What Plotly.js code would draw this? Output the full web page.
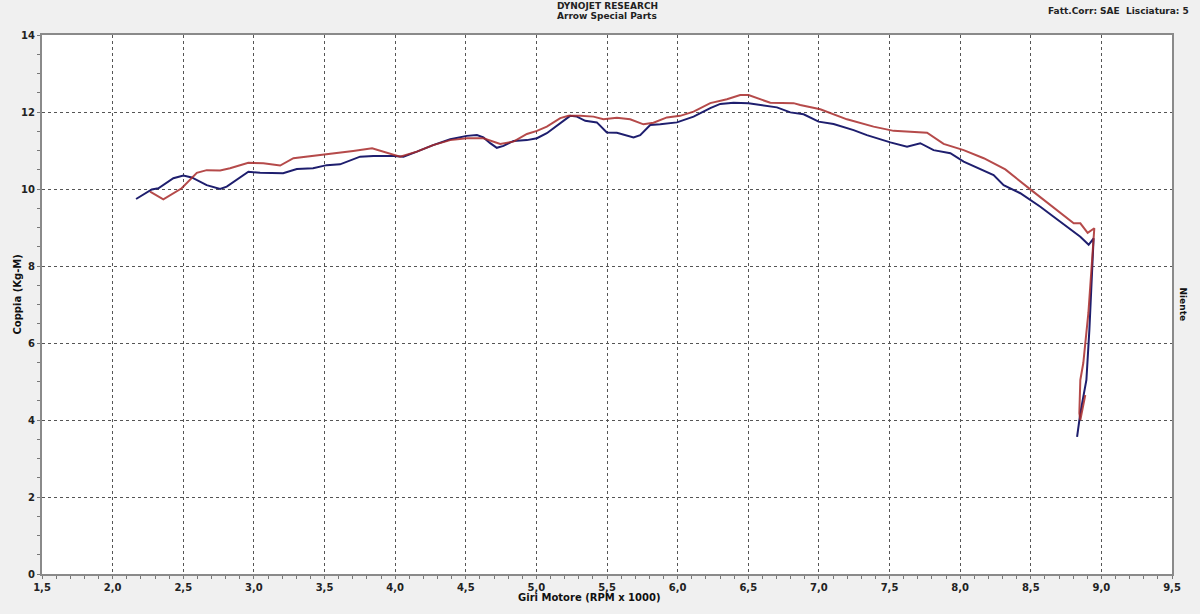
<!DOCTYPE html>
<html>
<head>
<meta charset="utf-8">
<script src="https://cdn.plot.ly/plotly-3.0.1.min.js"></script>
<style>
html,body{margin:0;padding:0;background:#f0f0f0;}
#chart{width:1200px;height:614px;}
</style>
</head>
<body>
<div id="chart"></div>
<script>
// Blue run: RPM x 1000 and torque (Kg-M)
const blueRpm = [2.166,2.277,2.324,2.430,2.501,2.560,2.666,2.761,2.808,2.961,3.044,3.207,3.304,3.419,3.516,3.610,3.752,3.846,3.988,4.059,4.154,4.269,4.390,4.508,4.579,4.625,4.673,4.720,4.767,4.838,4.933,5.004,5.074,5.169,5.239,5.287,5.346,5.428,5.499,5.570,5.688,5.735,5.806,5.877,5.995,6.113,6.231,6.302,6.396,6.502,6.538,6.703,6.798,6.892,6.998,7.104,7.246,7.340,7.506,7.624,7.718,7.812,7.931,8.025,8.237,8.308,8.426,8.568,8.662,8.757,8.851,8.910,8.945,8.915,8.894,8.851,8.828];
const blueTorque = [9.74,9.99,10.02,10.28,10.35,10.30,10.10,10.00,10.06,10.45,10.42,10.41,10.52,10.54,10.62,10.64,10.84,10.86,10.86,10.84,10.97,11.14,11.29,11.38,11.40,11.34,11.19,11.07,11.12,11.25,11.27,11.32,11.45,11.72,11.90,11.88,11.77,11.73,11.47,11.46,11.34,11.40,11.66,11.68,11.73,11.88,12.10,12.21,12.24,12.23,12.21,12.12,11.99,11.94,11.75,11.69,11.53,11.40,11.21,11.10,11.19,11.01,10.93,10.71,10.36,10.10,9.89,9.54,9.28,9.02,8.76,8.55,8.72,6.34,5.04,4.18,3.56];

// Red run
const redRpm = [2.265,2.359,2.489,2.596,2.666,2.761,2.831,2.961,3.067,3.186,3.280,3.469,3.703,3.837,3.929,4.035,4.154,4.269,4.390,4.508,4.625,4.744,4.838,4.933,5.004,5.074,5.169,5.227,5.310,5.404,5.475,5.570,5.664,5.758,5.829,5.924,6.018,6.113,6.231,6.349,6.443,6.502,6.656,6.821,6.868,7.010,7.199,7.387,7.529,7.766,7.883,8.025,8.167,8.320,8.497,8.710,8.804,8.851,8.903,8.950,8.934,8.908,8.872,8.851,8.844,8.851,8.886];
const redTorque = [9.93,9.73,10.02,10.42,10.49,10.48,10.54,10.68,10.67,10.61,10.80,10.88,10.99,11.06,10.96,10.84,10.97,11.14,11.27,11.32,11.32,11.17,11.23,11.43,11.51,11.62,11.84,11.90,11.90,11.88,11.81,11.85,11.81,11.68,11.72,11.86,11.90,12.01,12.23,12.33,12.44,12.44,12.24,12.23,12.18,12.07,11.81,11.62,11.51,11.46,11.17,11.01,10.80,10.51,9.99,9.37,9.11,9.11,8.86,8.98,8.08,6.78,5.48,5.04,4.18,4.00,4.65];

const xTickVals = [1.5,2.0,2.5,3.0,3.5,4.0,4.5,5.0,5.5,6.0,6.5,7.0,7.5,8.0,8.5,9.0,9.5];
const xTickText = ["1,5","2,0","2,5","3,0","3,5","4,0","4,5","5,0","5,5","6,0","6,5","7,0","7,5","8,0","8,5","9,0","9,5"];
const yTickVals = [0,2,4,6,8,10,12,14];
const yTickText = ["0","2","4","6","8","10","12","14"];

const F = "Tahoma, 'DejaVu Sans', Verdana, sans-serif";

const traces = [
  {x: blueRpm, y: blueTorque, type: 'scatter', mode: 'lines',
   line: {color: '#1e1e6e', width: 2}, hoverinfo: 'skip'},
  {x: redRpm, y: redTorque, type: 'scatter', mode: 'lines',
   line: {color: '#a82a2a', width: 2}, opacity: 0.85, hoverinfo: 'skip'}
];

const axisCommon = {
  showline: true, mirror: true, linecolor: '#8a8a8a', linewidth: 2,
  showgrid: true, gridcolor: '#555', griddash: 'dot', gridwidth: 1,
  zeroline: false, ticks: 'outside', ticklen: 3, tickcolor: '#777',
  tickfont: {family: F, size: 10, color: '#222', weight: 'bold'}
};

const layout = {
  width: 1200, height: 614,
  paper_bgcolor: '#f0f0f0', plot_bgcolor: '#ffffff',
  margin: {l: 42, r: 28, t: 35, b: 40},
  showlegend: false,
  xaxis: Object.assign({}, axisCommon, {
    range: [1.5, 9.5], tickvals: xTickVals, ticktext: xTickText,
    minor: {dtick: 0.1, ticks: 'outside', ticklen: 3, tickcolor: '#777', showgrid: false}
  }),
  yaxis: Object.assign({}, axisCommon, {
    range: [0, 14], tickvals: yTickVals, ticktext: yTickText,
    minor: {dtick: 0.5, ticks: 'outside', ticklen: 3, tickcolor: '#777', showgrid: false}
  }),
  annotations: [
    {text: 'DYNOJET RESEARCH', xref: 'paper', yref: 'paper', x: 0.5, y: 1, yshift: 29,
     xanchor: 'center', yanchor: 'middle', showarrow: false,
     font: {family: F, size: 9, color: '#222', weight: 'bold'}},
    {text: 'Arrow Special Parts', xref: 'paper', yref: 'paper', x: 0.5, y: 1, yshift: 19,
     xanchor: 'center', yanchor: 'middle', showarrow: false,
     font: {family: F, size: 9, color: '#222', weight: 'bold'}},
    {text: 'Fatt.Corr: SAE  Lisciatura: 5', xref: 'paper', yref: 'paper', x: 1, xshift: 19, y: 1, yshift: 24,
     xanchor: 'right', yanchor: 'middle', showarrow: false,
     font: {family: F, size: 9, color: '#222', weight: 'bold'}},
    {text: 'Niente', xref: 'paper', yref: 'paper', x: 1, xshift: 11, y: 0.5, yshift: 0,
     xanchor: 'center', yanchor: 'middle', showarrow: false, textangle: 90,
     font: {family: F, size: 9, color: '#111', weight: 'bold'}},
    {text: 'Coppia (Kg-M)', xref: 'paper', yref: 'paper', x: 0, xshift: -25, y: 0.5, yshift: 10,
     xanchor: 'center', yanchor: 'middle', showarrow: false, textangle: -90,
     font: {family: F, size: 10, color: '#111', weight: 'bold'}},
    {text: 'Giri Motore (RPM x 1000)', xref: 'paper', yref: 'paper', x: 0.4845, y: 0, yshift: -23,
     xanchor: 'center', yanchor: 'middle', showarrow: false,
     font: {family: F, size: 10, color: '#111', weight: 'bold'}}
  ]
};

Plotly.newPlot('chart', traces, layout, {displayModeBar: false, staticPlot: true});
</script>
</body>
</html>
